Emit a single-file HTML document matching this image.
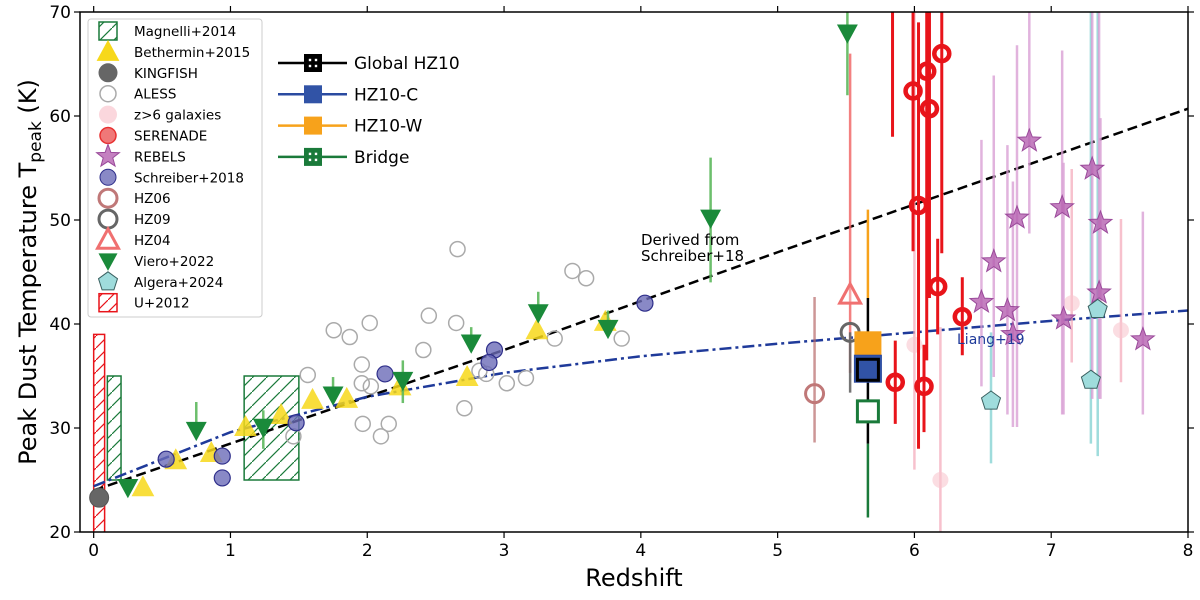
<!DOCTYPE html>
<html><head><meta charset="utf-8"><style>
body{margin:0;background:#fff;}
svg{display:block;font-family:"DejaVu Sans","Liberation Sans",sans-serif;}
</style></head><body>
<svg id="chart" width="1200" height="600" viewBox="0 0 1200 600" xmlns="http://www.w3.org/2000/svg">
<defs>
<pattern id="hatchG" patternUnits="userSpaceOnUse" width="14" height="14"><path d="M-2,16 L16,-2" stroke="#1a7a3a" stroke-width="1.2"/></pattern>
<pattern id="hatchR" patternUnits="userSpaceOnUse" width="12" height="12"><path d="M-2,14 L14,-2" stroke="#e8141a" stroke-width="1.2"/></pattern>
<clipPath id="plotClip"><rect x="80" y="12" width="1108" height="520"/></clipPath>
</defs>
<g id="plot" clip-path="url(#plotClip)"></g>
<g id="axes"></g>
<g id="legend"></g>
</svg>
<script>
// ---- data ----
const fitZ = [0,1,2,3,4,5,6,7,8];
const schreiberFitT = [24,28.5,33,37.5,42.2,46.9,51.5,56.1,60.7];
const liangFitT = [24.4,29.6,33.0,35.3,36.9,38.1,39.2,40.3,41.3];
const magnelliBoxes = [[0.1,0.2,25,35],[1.1,1.5,25,35]];
const u2012Box = [[0,0.08,20,39]];
const alessZ = [1.755,1.872,2.018,2.45,2.41,1.565,1.96,1.96,2.026,1.967,2.157,2.1,1.46,2.66,3.5,3.6,2.65,3.37,3.86,2.82,2.87,3.02,3.16,2.71];
const alessT = [39.4,38.75,40.1,40.8,37.5,35.1,36.1,34.3,34.0,30.4,30.4,29.2,29.2,47.2,45.1,44.4,40.1,38.6,38.6,35.5,35.2,34.3,34.8,31.9];
const schreiberZ = [0.53,0.94,0.94,1.48,2.13,2.93,2.89,4.03];
const schreiberT = [27.0,27.3,25.2,30.5,35.2,37.5,36.3,42.0];
const bethZ = [0.36,0.6,0.86,1.11,1.37,1.6,1.85,2.24,2.73,3.24,3.74];
const bethT = [24.3,26.9,27.6,30.1,31.25,32.7,32.8,34.0,34.9,39.4,40.2];
const kingZ = [0.04];
const kingT = [23.3];
const vieroZ = [0.25,0.75,1.24,1.75,2.26,2.76,3.25,3.76,4.51,5.51];
const vieroT = [24.3,29.8,30.1,33.2,34.6,38.2,41.1,39.6,50.2,68];
const vieroLo = [24.3,29.8,28,33.2,32.4,38.2,41.1,39.6,44,62];
const vieroHi = [24.3,32.5,31.7,34.9,36.5,39.7,43.1,41.3,56,71];
const redZ = [5.99,6.09,6.2,6.11,6.03,6.17,6.35,5.86,6.07];
const redT = [62.4,64.3,66.0,60.7,51.4,43.6,40.7,34.4,34.0];
const redLo = [47,36.5,46.8,42.5,28,39,37,30.4,29.6];
const redHi = [71,71,71,71,69,48.2,44.5,38.4,38];
const redExtraZ = [5.84];
const redExtraLo = [58];
const redExtraHi = [71];
const pinkZ = [6.0,6.19,7.15,7.51];
const pinkT = [38,25,42,39.4];
const pinkLo = [26,19,36.3,34.4];
const pinkHi = [71,39.7,54.9,50.1];
const rebZ = [6.84,7.3,7.08,6.75,7.36,6.58,6.49,6.68,7.35,7.09,6.72,7.67];
const rebT = [57.6,54.9,51.2,50.2,49.7,46,42.1,41.3,43,40.5,39,38.5];
const rebLo = [48.7,32.8,31.3,30.1,32.8,34.9,34,31.3,32.8,31.3,30.1,31.3];
const rebHi = [71,71,66.3,66.8,59.8,63.9,57.7,57.2,71,55.5,53.7,50.8];
const algZ = [6.56,7.29,7.34];
const algT = [32.6,34.6,41.4];
const algLo = [26.6,28.5,27.3];
const algHi = [39.2,71,71];
const hz06 = [5.27,33.3,28.6,42.6];
const hz09 = [5.53,39.2,33.4,39.2];
const hz04 = [5.53,42.8,35.3,66];
const hz10Z = 5.66;
const hz10Global = [35.6,28.5,42.5];
const hz10C = [35.7];
const hz10W = [38.0,42.5,51];
const bridge = [31.6,21.4,28.5];
const xTicks = [0,1,2,3,4,5,6,7,8];
const yTicks = [20,30,40,50,60,70];

// ---- scales ----
const X0=80,X1=1188,Y0=532,Y1=12;
function sx(z){return X0+(z+0.1)/8.1*(X1-X0);}
function sy(t){return Y0-(t-20)/50*(Y0-Y1);}
const NS="http://www.w3.org/2000/svg";
const plot=document.getElementById('plot');
const axes=document.getElementById('axes');
const legend=document.getElementById('legend');
function mk(tag,attrs,parent){const e=document.createElementNS(NS,tag);for(const k in attrs)e.setAttribute(k,attrs[k]);(parent||plot).appendChild(e);return e;}
function vbar(z,lo,hi,color,w,op){return mk('line',{x1:sx(z),x2:sx(z),y1:sy(lo),y2:sy(hi),stroke:color,'stroke-width':w,'stroke-opacity':op});}
function tri(cx,cy,r,down){const s=down?-1:1;return `${cx},${cy-s*r} ${cx+r*0.95},${cy+s*r*0.75} ${cx-r*0.95},${cy+s*r*0.75}`;}
function star(cx,cy,R,r){let p=[];for(let i=0;i<10;i++){const a=-Math.PI/2+i*Math.PI/5;const rr=i%2?r:R;p.push((cx+rr*Math.cos(a)).toFixed(1)+','+(cy+rr*Math.sin(a)).toFixed(1));}return p.join(' ');}
function penta(cx,cy,R){let p=[];for(let i=0;i<5;i++){const a=-Math.PI/2+i*2*Math.PI/5;p.push((cx+R*Math.cos(a)).toFixed(1)+','+(cy+R*Math.sin(a)).toFixed(1));}return p.join(' ');}

// boxes
magnelliBoxes.forEach(b=>{
  const e=mk('rect',{x:sx(b[0]),y:sy(b[3]),width:sx(b[1])-sx(b[0]),height:sy(b[2])-sy(b[3]),fill:'url(#hatchG)',stroke:'#1a7a3a','stroke-width':1.5});
  
  
});
u2012Box.forEach(b=>{
  const e=mk('rect',{x:sx(b[0]),y:sy(b[3]),width:sx(b[1])-sx(b[0]),height:sy(b[2])-sy(b[3])+4,fill:'url(#hatchR)',stroke:'#e8141a','stroke-width':1.5});
  
  
});

// fit lines
{
  const d1=fitZ.map((z,i)=>(i?'L':'M')+sx(z)+','+sy(schreiberFitT[i])).join(' ');
  const l1=mk('path',{d:d1,fill:'none',stroke:'#000','stroke-width':2.5,'stroke-dasharray':'10,5'});
  
  
  const d2=fitZ.map((z,i)=>(i?'L':'M')+sx(z)+','+sy(liangFitT[i])).join(' ');
  const l2=mk('path',{d:d2,fill:'none',stroke:'#1f3a9a','stroke-width':2.5,'stroke-dasharray':'12,4,3,4'});
  
  
}

// ALESS
alessZ.forEach((z,i)=>{
  const e=mk('circle',{cx:sx(z),cy:sy(alessT[i]),r:7.5,fill:'none',stroke:'#aaa','stroke-width':1.5});
  
  
});
// Bethermin
bethZ.forEach((z,i)=>{
  const e=mk('polygon',{points:tri(sx(z),sy(bethT[i]),12,false),fill:'#f7d81a','fill-opacity':0.85});
  
  
});
// Schreiber
schreiberZ.forEach((z,i)=>{
  const e=mk('circle',{cx:sx(z),cy:sy(schreiberT[i]),r:8,fill:'#6b6bb8','fill-opacity':0.8,stroke:'#2e2e8a','stroke-width':1.2});
  
  
});
// Kingfish
kingZ.forEach((z,i)=>{
  const e=mk('circle',{cx:sx(z),cy:sy(kingT[i]),r:9.5,fill:'#666',stroke:'#555'});
  
  
});
// Viero
vieroZ.forEach((z,i)=>{
  if(vieroHi[i]>vieroLo[i]){const b=vbar(z,vieroLo[i],vieroHi[i],'#5cb85c',2.5,0.9);
    
    }
  const e=mk('polygon',{points:tri(sx(z),sy(vieroT[i]),11,true),fill:'#1a8a3a'});
  
  
});
// pink z>6
pinkZ.forEach((z,i)=>{
  const b=vbar(z,pinkLo[i],pinkHi[i],'#f4a6b8',2.5,0.7);
  
  
  const e=mk('circle',{cx:sx(z),cy:sy(pinkT[i]),r:8,fill:'#f9c6cf','fill-opacity':0.6});
  
  
});
// Algera bars
algZ.forEach((z,i)=>{
  const b=vbar(z,algLo[i],algHi[i],'#7fd0d0',2.5,0.75);
  
  
});
// REBELS
rebZ.forEach((z,i)=>{
  const b=vbar(z,rebLo[i],rebHi[i],'#d9a0d4',2.5,0.8);
  
  
});
rebZ.forEach((z,i)=>{
  const e=mk('polygon',{points:star(sx(z),sy(rebT[i]),12,5),fill:'#b560b0','fill-opacity':0.8,stroke:'#9a4a9a','stroke-width':1});
  
  
});
algZ.forEach((z,i)=>{
  const e=mk('polygon',{points:penta(sx(z),sy(algT[i]),10),fill:'#9fdcdc',stroke:'#3a6060','stroke-width':1});
  
  
});
// HZ06, HZ09, HZ04
{
  let b=vbar(hz06[0],hz06[2],hz06[3],'#b86a6a',2.5,0.7);
  
  
  let e=mk('circle',{cx:sx(hz06[0]),cy:sy(hz06[1]),r:9,fill:'none',stroke:'#c07878','stroke-width':3});
  
  
  b=vbar(hz04[0],hz04[2],hz04[3],'#f06060',2.5,0.8);
  
  
  b=vbar(hz09[0],hz09[2],hz09[3],'#666',2.5,0.9);
  
  
  e=mk('circle',{cx:sx(hz09[0]),cy:sy(hz09[1]),r:9,fill:'none',stroke:'#666','stroke-width':3});
  
  
  e=mk('polygon',{points:tri(sx(hz04[0]),sy(hz04[1]),11,false),fill:'#fff','fill-opacity':0.3,stroke:'#f07070','stroke-width':3});
  
  
}
// red rings
redExtraZ.forEach((z,i)=>{
  const b=vbar(z,redExtraLo[i],redExtraHi[i],'#e8141a',3,1);
  
  
});
redZ.forEach((z,i)=>{
  const b=vbar(z,redLo[i],redHi[i],'#e8141a',3,1);
  
  
});
redZ.forEach((z,i)=>{
  const e=mk('circle',{cx:sx(z),cy:sy(redT[i]),r:7.5,fill:'none',stroke:'#e8141a','stroke-width':4.5});
  
  
});
// HZ10
{
  const x=sx(hz10Z);
  let b=vbar(hz10Z,bridge[1],bridge[2],'#1a7a3a',2.5,1);
  
  
  b=vbar(hz10Z,hz10W[1],hz10W[2],'#f7a21b',2.5,1);
  
  
  b=vbar(hz10Z,hz10Global[1],hz10Global[2],'#000',2.5,1);
  
  
  let e=mk('rect',{x:x-13.5,y:sy(hz10W[0])-13.5,width:27,height:27,fill:'#f7a21b'});
  
  
  e=mk('rect',{x:x-13.5,y:sy(hz10C[0])-13.5,width:27,height:27,fill:'#3153a6',stroke:'#2a4aa0'});
  
  
  e=mk('rect',{x:x-10.5,y:sy(hz10Global[0])-10.5,width:21,height:21,fill:'none',stroke:'#000','stroke-width':3});
  
  
  e=mk('rect',{x:x-10.5,y:sy(bridge[0])-10.5,width:21,height:21,fill:'#fff',stroke:'#1a7a3a','stroke-width':3});
  
  
}
// annotations
{
  let t=mk('text',{x:641,y:245,'font-size':15,fill:'#000'});t.textContent='Derived from';
  
  
  t=mk('text',{x:641,y:261,'font-size':15,fill:'#000'});t.textContent='Schreiber+18';
  
  
  t=mk('text',{x:957,y:344,'font-size':14,fill:'#1f3a9a'});t.textContent='Liang+19';
  
  
}
// axes
{
  const fr=mk('rect',{x:X0,y:Y1,width:X1-X0,height:Y0-Y1,fill:'none',stroke:'#000','stroke-width':1.5},axes);
  
  
  xTicks.forEach(v=>{
    const x=sx(v);
    let l=mk('line',{x1:x,x2:x,y1:Y0,y2:Y0+6,stroke:'#000','stroke-width':1.2},axes);
    
    
    l=mk('line',{x1:x,x2:x,y1:Y1,y2:Y1-6,stroke:'#000','stroke-width':1.2},axes);
    
    
    const t=mk('text',{x:x,y:Y0+24,'font-size':17,'text-anchor':'middle'},axes);t.textContent=v;
    
    
  });
  yTicks.forEach(v=>{
    const y=sy(v);
    let l=mk('line',{x1:X0-6,x2:X0,y1:y,y2:y,stroke:'#000','stroke-width':1.2},axes);
    
    
    l=mk('line',{x1:X1,x2:X1+6,y1:y,y2:y,stroke:'#000','stroke-width':1.2},axes);
    
    
    const t=mk('text',{x:X0-9,y:y+6,'font-size':17,'text-anchor':'end'},axes);t.textContent=v;
    
    
  });
  let t=mk('text',{x:634,y:586,'font-size':24,'text-anchor':'middle'},axes);t.textContent='Redshift';
  
  
  t=mk('text',{x:0,y:0,'font-size':24,'text-anchor':'middle',transform:'translate(36,272) rotate(-90)'},axes);
  t.innerHTML='Peak Dust Temperature T<tspan font-size="17" dy="5">peak</tspan><tspan dy="-5"> (K)</tspan>';
  
  
}
// legend
{
  const box=mk('rect',{x:88,y:19,width:174,height:298,rx:3,fill:'#fff','fill-opacity':0.85,stroke:'#ccc'},legend);
  
  
  const labels=['Magnelli+2014','Bethermin+2015','KINGFISH','ALESS','z>6 galaxies','SERENADE','REBELS','Schreiber+2018','HZ06','HZ09','HZ04','Viero+2022','Algera+2024','U+2012'];
  labels.forEach((s,i)=>{
    const y=31+i*20.9, x=108;
    let m;
    if(i===0) m=mk('rect',{x:x-9,y:y-9,width:18,height:18,fill:'url(#hatchG)',stroke:'#1a7a3a','stroke-width':1.5},legend);
    else if(i===1) m=mk('polygon',{points:tri(x,y,12,false),fill:'#f7d81a'},legend);
    else if(i===2) m=mk('circle',{cx:x,cy:y,r:9.5,fill:'#666'},legend);
    else if(i===3) m=mk('circle',{cx:x,cy:y,r:8,fill:'none',stroke:'#aaa','stroke-width':1.5},legend);
    else if(i===4) m=mk('circle',{cx:x,cy:y,r:9,fill:'#f9c6cf','fill-opacity':0.7},legend);
    else if(i===5) m=mk('circle',{cx:x,cy:y,r:8,fill:'#f07878',stroke:'#e83030','stroke-width':1.5},legend);
    else if(i===6) m=mk('polygon',{points:star(x,y,12,5),fill:'#b560b0','fill-opacity':0.8,stroke:'#9a4a9a'},legend);
    else if(i===7) m=mk('circle',{cx:x,cy:y,r:8,fill:'#6b6bb8','fill-opacity':0.8,stroke:'#2e2e8a'},legend);
    else if(i===8) m=mk('circle',{cx:x,cy:y,r:9,fill:'none',stroke:'#c07878','stroke-width':3},legend);
    else if(i===9) m=mk('circle',{cx:x,cy:y,r:9,fill:'none',stroke:'#666','stroke-width':3},legend);
    else if(i===10) m=mk('polygon',{points:tri(x,y,11,false),fill:'none',stroke:'#f07070','stroke-width':3},legend);
    else if(i===11) m=mk('polygon',{points:tri(x,y,10,true),fill:'#1a8a3a'},legend);
    else if(i===12) m=mk('polygon',{points:penta(x,y,10),fill:'#9fdcdc',stroke:'#3a6060'},legend);
    else m=mk('rect',{x:x-9,y:y-9,width:18,height:18,fill:'url(#hatchR)',stroke:'#e8141a','stroke-width':1.5},legend);
    
    
    const t=mk('text',{x:134,y:y+5,'font-size':13.5},legend);t.textContent=s;
    
    
  });
  const l2=[['Global HZ10','#000','#000',true],['HZ10-C','#2a4aa0','#3153a6',false],['HZ10-W','#f7a21b','#f7a21b',false],['Bridge','#1a7a3a','#1a7a3a',true]];
  l2.forEach((d,i)=>{
    const y=63+i*31.3;
    let l=mk('line',{x1:278,x2:347,y1:y,y2:y,stroke:d[1],'stroke-width':2.5},legend);
    
    
    const r=mk('rect',{x:304,y:y-9,width:18,height:18,fill:d[2]},legend);
    
    
    if(d[3]){
      [[-3,-3],[3,-3],[-3,3],[3,3]].forEach(p=>{
        const dot=mk('rect',{x:313+p[0]-1.2,y:y+p[1]-1.2,width:2.4,height:2.4,fill:'#fff'},legend);
        
        
      });
    }
    const t=mk('text',{x:354,y:y+6,'font-size':17},legend);t.textContent=d[0];
    
    
  });
}
</script>
</body></html>
